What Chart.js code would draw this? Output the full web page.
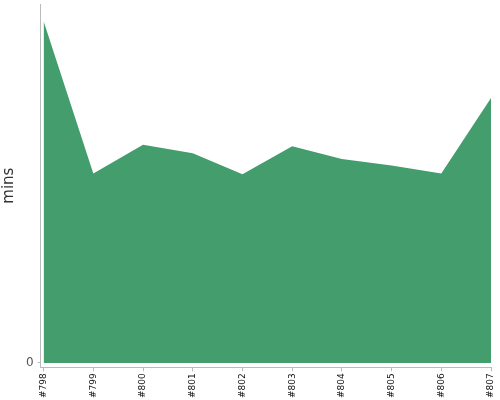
<!DOCTYPE html>
<html>
<head>
<meta charset="utf-8">
<script src="https://cdn.jsdelivr.net/npm/chart.js@4"></script>
<style>
  html, body { margin: 0; padding: 0; background: #fff; }
  #wrap { width: 500px; height: 400px; }
</style>
</head>
<body>
<div id="wrap"><canvas id="myChart"></canvas></div>
<script>
  // Build numbers along the x axis
  var builds = ['#798', '#799', '#800', '#801', '#802', '#803', '#804', '#805', '#806', '#807'];
  // Duration per build, in minutes
  var durations = [47.6, 26.4, 30.4, 29.2, 26.3, 30.2, 28.4, 27.5, 26.4, 36.9];
  // Only tick shown on the y axis
  var yTicks = [0];

  var points = durations.map(function (v, i) { return { x: i, y: v }; });

  var ctx = document.getElementById('myChart').getContext('2d');

  var chart = new Chart(ctx, {
    type: 'line',
    data: {
      datasets: [{
        label: 'mins',
        data: points,
        fill: 'origin',
        backgroundColor: 'rgb(68, 157, 109)',
        borderWidth: 0,
        pointRadius: 0,
        tension: 0
      }]
    },
    options: {
      responsive: true,
      maintainAspectRatio: false,
      animation: false,
      layout: { padding: { top: 4, right: 9, left: 0, bottom: 0 } },
      plugins: {
        legend: { display: false },
        tooltip: { enabled: false }
      },
      scales: {
        x: {
          type: 'linear',
          min: -0.06,
          max: 9,
          afterBuildTicks: function (axis) {
            axis.ticks = builds.map(function (b, i) { return { value: i }; });
          },
          afterFit: function (axis) {
            axis.paddingLeft = 0;
            axis.paddingRight = 0;
          },
          ticks: {
            autoSkip: false,
            minRotation: 90,
            maxRotation: 90,
            padding: 2,
            color: '#111',
            font: { family: 'DejaVu Sans', size: 9 },
            callback: function (v) { return builds[v]; }
          },
          grid: {
            drawOnChartArea: false,
            drawTicks: true,
            tickLength: 4,
            color: '#bbb'
          },
          border: { color: '#bbb', width: 1 }
        },
        y: {
          min: -0.6,
          max: 50,
          afterBuildTicks: function (axis) {
            axis.ticks = yTicks.map(function (v) { return { value: v }; });
          },
          afterFit: function (axis) {
            axis.paddingTop = 0;
            axis.paddingBottom = 0;
          },
          ticks: {
            padding: 4,
            color: '#555',
            font: { family: 'DejaVu Sans', size: 12 }
          },
          grid: {
            drawOnChartArea: false,
            drawTicks: true,
            tickLength: 3,
            color: '#bbb'
          },
          border: { color: '#bbb', width: 1 },
          title: {
            display: true,
            text: 'mins',
            color: '#333',
            font: { family: 'DejaVu Sans', size: 15 },
            padding: { top: 0, bottom: 4 }
          }
        }
      }
    }
  });
</script>
</body>
</html>
